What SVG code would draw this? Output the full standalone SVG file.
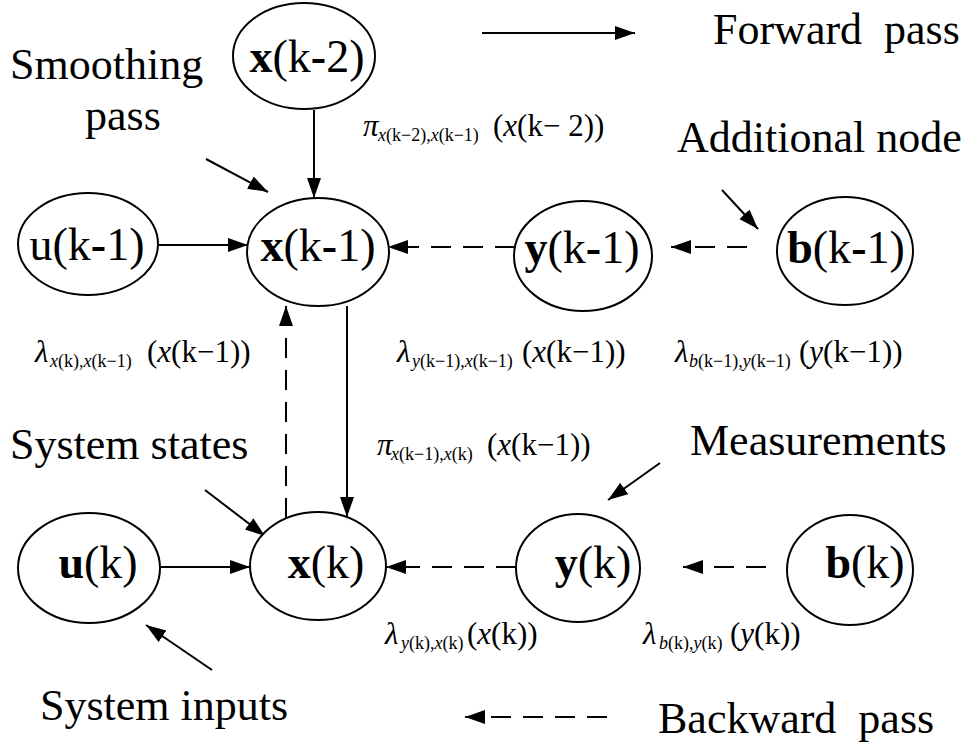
<svg xmlns="http://www.w3.org/2000/svg" width="973" height="748" viewBox="0 0 973 748" font-family="'Liberation Serif', 'Times New Roman', serif">
<style>
.nd{fill:#fff;stroke:#000;stroke-width:2}
.nt{font-size:46px;text-anchor:middle;fill:#000}
.b{font-weight:bold}
.lb{font-size:44px;fill:#000}
.m{font-size:31px;fill:#000}
.s{font-size:18px}
.i{font-style:italic}
.c{stroke:#000;stroke-width:2;fill:none;marker-end:url(#ah)}
.d{stroke-dasharray:20 12}
</style>
<defs>
<marker id="ah" markerUnits="userSpaceOnUse" markerWidth="22" markerHeight="16" refX="20" refY="7" orient="auto">
<path d="M0,0 L20,7 L0,14 z" fill="#000"/>
</marker>
</defs>
<g id="connectors">
<line class="c" x1="314" y1="110" x2="314" y2="198"/>
<line class="c" x1="158" y1="245" x2="248" y2="245"/>
<line class="c d" x1="515" y1="247" x2="388" y2="247"/>
<line class="c d" x1="747" y1="247" x2="671" y2="247"/>
<line class="c" x1="347" y1="306" x2="347" y2="517"/>
<line class="c d" x1="286" y1="518" x2="286" y2="306"/>
<line class="c" x1="160" y1="567" x2="250" y2="567"/>
<line class="c d" x1="516" y1="567" x2="386" y2="567"/>
<line class="c d" x1="766" y1="567" x2="683" y2="567"/>
<line class="c" x1="206" y1="159" x2="268" y2="192"/>
<line class="c" x1="722" y1="190" x2="758" y2="229"/>
<line class="c" x1="205" y1="490" x2="265" y2="536"/>
<line class="c" x1="660" y1="463" x2="608" y2="500"/>
<line class="c" x1="212" y1="670" x2="146" y2="625"/>
<line class="c" x1="482" y1="33" x2="635" y2="33"/>
<line class="c d" x1="607" y1="717" x2="465" y2="717"/>
</g>
<g id="n_xk2"><ellipse class="nd" cx="304" cy="56" rx="71" ry="53"/><text class="nt" x="307" y="72"><tspan class="b">x</tspan>(k<tspan class="b">-</tspan>2)</text></g>
<g id="n_xk1"><ellipse class="nd" cx="318" cy="252" rx="71" ry="54"/><text class="nt" x="318" y="261"><tspan class="b">x</tspan>(k<tspan class="b">-</tspan>1)</text></g>
<g id="n_uk1"><ellipse class="nd" cx="88" cy="244" rx="70" ry="51"/><text class="nt" x="87" y="260">u(k<tspan class="b">-</tspan>1)</text></g>
<g id="n_yk1"><ellipse class="nd" cx="583" cy="256" rx="69" ry="55"/><text class="nt" x="582" y="263"><tspan class="b">y</tspan>(k<tspan class="b">-</tspan>1)</text></g>
<g id="n_bk1"><ellipse class="nd" cx="845" cy="251" rx="68" ry="54"/><text class="nt" x="846" y="263"><tspan class="b">b</tspan>(k<tspan class="b">-</tspan>1)</text></g>
<g id="n_uk"><ellipse class="nd" cx="89" cy="568" rx="71" ry="55"/><text class="nt" x="98" y="578"><tspan class="b">u</tspan>(k)</text></g>
<g id="n_xk"><ellipse class="nd" cx="318" cy="566" rx="68" ry="54"/><text class="nt" x="326" y="578"><tspan class="b">x</tspan>(k)</text></g>
<g id="n_yk"><ellipse class="nd" cx="578" cy="568" rx="62" ry="54"/><text class="nt" x="593" y="578"><tspan class="b">y</tspan>(k)</text></g>
<g id="n_bk"><ellipse class="nd" cx="850" cy="570" rx="63" ry="55"/><text class="nt" x="865" y="578"><tspan class="b">b</tspan>(k)</text></g>
<g id="labels">
<text class="lb" x="713" y="44">Forward&#160; pass</text>
<text class="lb" x="10" y="79">Smoothing</text>
<text class="lb" x="85" y="130">pass</text>
<text class="lb" x="677" y="152">Additional node</text>
<text class="lb" x="10" y="459">System states</text>
<text class="lb" x="690" y="455">Measurements</text>
<text class="lb" x="40" y="720">System inputs</text>
<text class="lb" x="658" y="733">Backward&#160; pass</text>
</g>
<g id="math">
<text class="m" y="136"><tspan x="363" class="i">π</tspan><tspan class="s" x="378" dy="5"><tspan class="i">x</tspan>(k−2),<tspan class="i">x</tspan>(k−1)</tspan><tspan x="493" dy="-5">(<tspan class="i">x</tspan>(k− 2))</tspan></text>
<text class="m" y="362"><tspan x="35" class="i">λ</tspan><tspan class="s" x="50" dy="5"><tspan class="i">x</tspan>(k),<tspan class="i">x</tspan>(k−1)</tspan><tspan x="147" dy="-5">(<tspan class="i">x</tspan>(k−1))</tspan></text>
<text class="m" y="362"><tspan x="397" class="i">λ</tspan><tspan class="s" x="412" dy="5"><tspan class="i">y</tspan>(k−1),<tspan class="i">x</tspan>(k−1)</tspan><tspan x="522" dy="-5">(<tspan class="i">x</tspan>(k−1))</tspan></text>
<text class="m" y="362"><tspan x="675" class="i">λ</tspan><tspan class="s" x="689" dy="5"><tspan class="i">b</tspan>(k−1),<tspan class="i">y</tspan>(k−1)</tspan><tspan x="799" dy="-5">(<tspan class="i">y</tspan>(k−1))</tspan></text>
<text class="m" y="455"><tspan x="377" class="i">π</tspan><tspan class="s" x="391" dy="5"><tspan class="i">x</tspan>(k−1),<tspan class="i">x</tspan>(k)</tspan><tspan x="487" dy="-5">(<tspan class="i">x</tspan>(k−1))</tspan></text>
<text class="m" y="644"><tspan x="385" class="i">λ</tspan><tspan class="s" x="401" dy="5"><tspan class="i">y</tspan>(k),<tspan class="i">x</tspan>(k)</tspan><tspan x="467" dy="-5">(<tspan class="i">x</tspan>(k))</tspan></text>
<text class="m" y="644"><tspan x="643" class="i">λ</tspan><tspan class="s" x="659" dy="5"><tspan class="i">b</tspan>(k),<tspan class="i">y</tspan>(k)</tspan><tspan x="730" dy="-5">(<tspan class="i">y</tspan>(k))</tspan></text>
</g>
</svg>
